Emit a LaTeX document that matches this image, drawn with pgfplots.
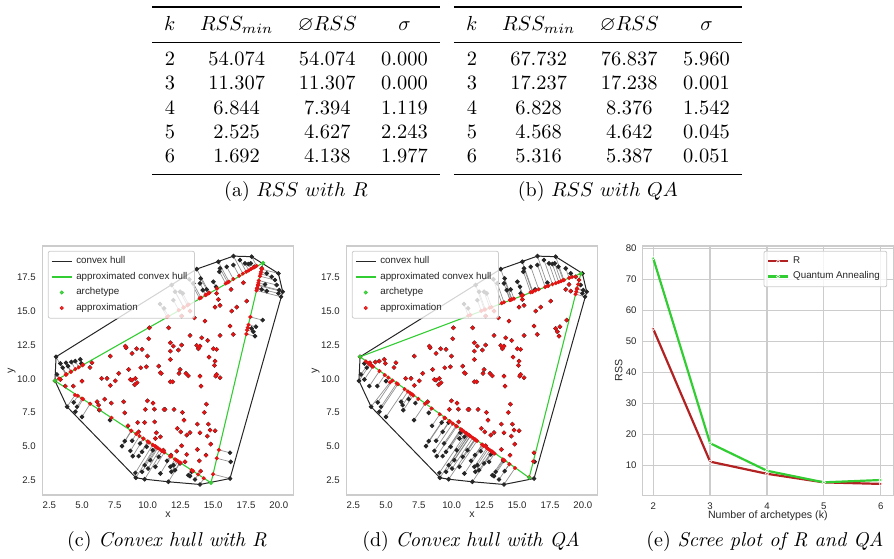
\documentclass[border=0pt]{standalone}
\usepackage{fontspec}
\usepackage{amssymb}
\usepackage{booktabs}
\usepackage{graphicx}
\usepackage{pgfplots}
\usepackage{pgfplotstable}
\pgfplotsset{compat=1.18}
\newfontfamily\plotfont{Liberation Sans}
\definecolor{lgreen}{RGB}{50,205,50}
\definecolor{pred}{RGB}{228,20,20}
\definecolor{fire}{RGB}{178,34,34}
\definecolor{tgray}{RGB}{38,38,38}
\definecolor{fgray}{RGB}{204,204,204}

\pgfplotstableread{
x y rx ry qx qy
10.13 13.79 10.13 13.79 10.13 13.79
11.60 13.79 11.60 13.79 11.60 13.79
10.08 12.98 10.08 12.98 10.08 12.98
11.73 12.68 11.73 12.68 11.73 12.68
11.73 12.06 11.73 12.06 11.73 12.06
8.30 12.43 8.30 12.43 8.30 12.43
8.35 12.31 8.35 12.31 8.35 12.31
8.81 11.89 8.81 11.89 8.81 11.89
9.16 12.24 9.16 12.24 9.16 12.24
9.57 12.19 9.57 12.19 9.57 12.19
9.98 11.69 9.98 11.69 9.98 11.69
7.15 11.69 7.15 11.69 7.15 11.69
5.75 11.20 5.75 11.20 5.75 11.20
7.79 10.41 7.79 10.41 7.79 10.41
8.55 10.70 8.55 10.70 8.55 10.70
9.47 10.83 9.47 10.83 9.47 10.83
9.90 10.90 9.90 10.90 9.90 10.90
10.84 10.95 10.84 10.95 10.84 10.95
10.97 10.46 10.97 10.46 10.97 10.46
11.73 11.44 11.73 11.44 11.73 11.44
6.90 10.04 6.90 10.04 6.90 10.04
8.68 9.96 8.68 9.96 8.68 9.96
8.81 9.91 8.81 9.91 8.81 9.91
9.06 10.04 9.06 10.04 9.06 10.04
9.19 9.72 9.19 9.72 9.19 9.72
9.01 9.57 9.01 9.57 9.01 9.57
7.15 9.52 7.15 9.52 7.15 9.52
7.53 9.86 7.53 9.86 7.53 9.86
4.99 9.84 4.99 9.84 5.17 10.10
4.33 9.47 4.33 9.47 4.90 10.29
3.34 9.96 3.34 9.96 4.00 10.91
11.04 10.41 11.04 10.41 11.04 10.41
11.73 9.79 11.73 9.79 11.73 9.79
6.72 8.50 6.72 8.50 6.97 8.86
6.14 8.31 6.14 8.31 6.66 9.07
6.26 8.06 6.26 8.06 6.86 8.93
7.23 8.21 7.23 8.21 7.45 8.52
8.17 8.31 8.17 8.31 8.17 8.31
8.25 7.49 8.25 7.49 8.47 7.81
9.98 8.38 9.98 8.38 9.98 8.38
10.41 8.21 10.41 8.21 10.41 8.21
10.51 7.76 10.51 7.76 10.51 7.76
9.82 7.74 9.82 7.74 9.82 7.74
11.25 7.74 11.25 7.74 11.25 7.74
9.24 6.77 9.24 6.77 9.48 7.11
9.77 6.77 9.77 6.77 9.84 6.87
10.53 6.82 10.53 6.82 10.53 6.82
8.50 6.53 8.50 6.53 9.09 7.38
9.31 6.08 9.31 6.08 9.85 6.85
10.66 6.01 10.66 6.01 10.79 6.20
10.97 5.71 10.97 5.71 11.14 5.96
10.59 5.59 10.59 5.59 10.94 6.10
12.39 10.41 12.39 10.41 12.39 10.41
12.92 10.41 12.92 10.41 12.92 10.41
13.10 10.23 13.10 10.23 13.10 10.23
13.99 10.21 13.99 10.21 13.99 10.21
15.19 10.21 15.19 10.21 15.19 10.21
15.52 10.09 15.52 10.09 15.52 10.09
11.91 9.79 11.91 9.79 11.91 9.79
14.07 9.47 14.07 9.47 14.07 9.47
11.32 7.74 11.32 7.74 11.32 7.74
12.01 7.74 12.01 7.74 12.01 7.74
12.65 7.52 12.65 7.52 12.65 7.52
14.48 8.13 14.48 8.13 14.48 8.13
14.32 7.52 14.32 7.52 14.32 7.52
12.77 6.95 12.77 6.95 12.77 6.95
13.79 6.65 13.79 6.65 13.79 6.65
14.63 6.65 14.63 6.65 14.63 6.65
12.26 6.33 12.26 6.33 12.26 6.33
12.52 6.08 12.52 6.08 12.52 6.08
13.23 6.03 13.23 6.03 13.23 6.03
12.98 5.84 12.98 5.84 12.98 5.84
13.99 6.01 13.99 6.01 13.99 6.01
14.76 6.21 14.76 6.21 14.76 6.21
15.14 6.16 15.14 6.16 15.14 6.16
14.55 5.76 14.55 5.76 14.55 5.76
14.81 5.17 14.81 5.17 14.81 5.17
12.59 5.05 12.59 5.05 12.59 5.05
13.79 4.77 13.79 4.77 13.79 4.77
12.21 4.65 12.21 4.65 12.47 5.03
12.98 4.40 12.98 4.40 13.11 4.59
14.45 4.35 14.45 4.35 14.45 4.35
13.94 3.93 13.94 3.93 13.97 3.98
12.85 3.86 12.85 3.86 13.27 4.47
14.04 3.17 14.04 3.17 14.40 3.69
17.30 17.13 17.30 17.13 17.38 16.90
16.36 16.63 16.36 16.63 16.39 16.55
15.26 16.34 15.26 16.34 15.32 16.16
15.39 15.89 15.39 15.89 15.39 15.89
15.14 15.32 15.14 15.32 15.14 15.32
15.52 15.45 15.52 15.45 15.52 15.45
16.79 15.32 16.79 15.32 16.79 15.32
17.55 15.77 17.55 15.77 17.55 15.77
16.41 15.03 16.41 15.03 16.41 15.03
13.56 14.53 13.56 14.53 13.56 14.53
14.37 14.29 14.37 14.29 14.37 14.29
16.28 13.92 16.28 13.92 16.28 13.92
13.23 13.22 13.23 13.22 13.23 13.22
14.12 13.05 14.12 13.05 14.12 13.05
15.52 13.22 15.52 13.22 15.52 13.22
16.53 13.30 16.53 13.30 16.53 13.30
14.58 12.85 14.58 12.85 14.58 12.85
11.96 12.43 11.96 12.43 11.96 12.43
12.59 12.51 12.59 12.51 12.59 12.51
12.34 12.14 12.34 12.14 12.34 12.14
13.74 12.48 13.74 12.48 13.74 12.48
13.99 12.43 13.99 12.43 13.99 12.43
13.87 12.24 13.87 12.24 13.87 12.24
15.01 12.24 15.01 12.24 15.01 12.24
15.26 12.19 15.26 12.19 15.26 12.19
14.68 11.62 14.68 11.62 14.68 11.62
15.14 11.32 15.14 11.32 15.14 11.32
15.09 11.00 15.09 11.00 15.09 11.00
12.47 10.70 12.47 10.70 12.47 10.70
15.26 10.33 15.26 10.33 15.26 10.33
13.23 15.03 13.23 15.03 13.23 15.03
12.59 14.66 12.59 14.66 12.59 14.66
5.60 10.85 5.60 10.85 5.60 10.85
6.49 10.04 6.49 10.04 6.49 10.04
3.72 9.47 3.72 9.47 4.49 10.58
13.74 18.14 14.71 16.38 14.56 15.88
14.04 17.45 14.65 16.35 14.60 15.90
13.99 17.08 14.46 16.24 14.44 15.84
14.20 16.58 14.40 16.21 14.47 15.85
14.50 16.63 14.65 16.36 14.75 15.95
15.39 18.68 16.20 17.21 16.19 16.47
15.52 18.19 16.10 17.15 16.15 16.45
15.47 17.94 15.95 17.07 16.02 16.42
16.03 18.31 16.53 17.40 16.64 16.64
16.54 18.44 16.98 17.64 17.13 16.81
16.54 19.10 17.26 17.80 17.34 16.89
17.04 18.81 17.52 17.94 17.69 17.01
17.42 18.56 17.71 18.04 17.95 17.10
17.68 18.51 17.88 18.14 18.16 17.18
17.86 18.56 18.04 18.24 18.34 17.24
18.14 18.31 18.15 18.29 18.50 17.31
17.93 19.06 18.31 18.38 18.56 17.33
15.01 17.20 15.29 16.70 15.38 16.18
15.21 16.83 15.28 16.70 15.44 16.20
11.83 16.96 12.75 15.30 12.49 15.13
12.09 16.46 12.74 15.29 12.56 15.15
12.47 16.46 13.03 15.45 12.90 15.28
12.67 16.34 13.13 15.51 13.04 15.32
11.96 15.84 12.37 15.10 12.25 15.04
10.94 15.55 11.47 14.59 11.26 14.68
11.25 15.23 11.57 14.64 11.43 14.74
13.18 17.38 13.96 15.97 13.82 15.61
13.48 17.08 14.07 16.02 13.99 15.68
3.01 11.64 3.75 10.31 3.01 11.64
3.34 11.15 3.79 10.34 3.45 11.30
3.52 10.83 3.79 10.34 3.72 11.11
3.77 11.20 4.14 10.53 3.77 11.20
3.92 10.95 4.15 10.54 3.92 10.95
4.18 11.25 4.48 10.72 4.18 11.25
4.48 11.32 4.74 10.86 4.48 11.32
4.86 11.45 5.08 11.06 4.86 11.45
4.94 11.15 5.02 11.01 4.94 11.15
3.08 10.33 3.24 10.03 3.66 11.16
18.70 18.19 18.70 18.19 18.96 17.48
19.08 17.82 18.64 17.93 19.18 17.56
19.46 17.57 18.61 17.78 19.46 17.57
19.71 17.33 18.56 17.61 19.71 17.33
19.97 17.82 18.70 18.13 19.85 17.80
19.84 16.96 18.48 17.29 19.65 17.01
20.04 16.58 18.41 16.98 19.56 16.71
20.30 16.46 18.41 16.92 19.55 16.66
20.17 16.09 18.30 16.55 19.45 16.28
19.97 16.34 18.36 16.73 19.50 16.46
18.77 14.36 17.83 14.59 18.77 14.36
18.26 13.87 17.69 14.01 18.26 13.87
18.19 13.17 17.53 13.33 18.19 13.17
18.06 13.50 17.58 13.62 18.06 13.50
17.93 13.74 17.64 13.81 17.93 13.74
16.28 4.53 15.43 4.74 16.28 4.53
16.33 3.86 15.27 4.12 16.22 3.89
16.28 2.62 14.99 2.94 15.91 2.72
18.70 16.63 18.35 16.72 18.70 16.63
19.08 16.51 18.34 16.69 19.08 16.51
18.95 17.00 18.44 17.12 18.95 17.00
3.85 7.94 4.46 8.81 5.30 9.75
4.36 8.26 4.67 8.75 5.48 9.88
4.61 7.94 4.99 8.55 5.81 9.67
4.99 7.19 5.61 8.16 6.41 9.24
4.48 7.57 5.07 8.50 5.90 9.61
6.31 7.69 6.32 7.71 7.07 8.78
7.13 6.95 7.24 7.13 7.97 8.16
8.04 5.02 8.76 6.15 9.48 7.10
8.25 5.39 8.74 6.17 9.45 7.12
8.81 5.42 9.13 5.93 9.82 6.87
8.68 4.67 9.38 5.77 10.08 6.69
8.86 4.28 9.68 5.57 10.39 6.48
9.06 3.04 10.38 5.12 11.10 5.98
9.57 3.12 10.71 4.92 11.41 5.77
9.77 3.61 10.63 4.97 11.32 5.84
9.31 4.28 10.00 5.37 10.69 6.27
9.57 4.60 10.04 5.34 10.72 6.25
10.03 3.36 10.93 4.78 11.61 5.64
10.20 3.98 10.77 4.87 11.43 5.75
10.59 3.49 11.27 4.56 11.93 5.41
10.84 4.23 11.11 4.66 11.75 5.54
10.97 2.99 11.77 4.25 12.41 5.07
11.48 3.93 11.71 4.28 12.32 5.14
11.73 3.49 12.08 4.05 12.69 4.88
11.81 3.12 12.31 3.90 12.92 4.71
9.10 2.68 10.57 5.00 11.30 5.85
9.77 2.57 11.10 4.66 11.81 5.50
11.58 2.38 12.48 3.79 13.11 4.58
11.78 4.35 11.78 4.35 12.32 5.13
11.96 3.61 12.20 3.98 12.79 4.81
12.09 3.24 12.45 3.81 13.05 4.63
13.10 2.87 13.34 3.25 13.91 4.04
13.23 2.80 13.47 3.17 14.03 3.95
13.36 3.12 13.41 3.20 13.96 3.99
13.99 2.18 14.28 2.64 14.83 3.40
13.61 2.55 13.85 2.93 14.40 3.69
9.42 5.22 9.66 5.59 10.33 6.53
9.92 4.97 10.12 5.29 10.78 6.21
10.38 4.72 10.57 5.02 11.21 5.91
11.20 4.72 11.20 4.72 11.76 5.52
12.47 3.74 12.50 3.79 13.08 4.62
2.93 9.86 2.93 9.86 3.77 11.08
}\pts

\pgfplotstableread{
x y
2.93 9.86
3.01 11.64
13.74 18.14
16.54 19.10
17.93 19.06
19.97 17.82
20.30 16.46
16.28 2.62
13.99 2.18
11.58 2.38
9.77 2.57
9.10 2.68
3.85 7.94
2.93 9.86
}\hull

\pgfplotstableread{
k R QA
2 54.074 76.837
3 11.307 17.238
4 7.394 8.376
5 4.627 4.642
6 4.138 5.387
}\scree

\pgfplotsset{
  sns/.style={
    scale only axis,
    axis line style={draw=fgray, line width=0.6pt},
    major tick length=0pt,
    tick style={draw=none},
    tick label style={font=\plotfont\fontsize{4.8}{5.5}\selectfont, text=tgray},
    label style={font=\plotfont\fontsize{5.3}{6}\selectfont, text=tgray},
    /pgf/number format/assume math mode=true,
    legend image code/.code={\draw[mark repeat=2,mark phase=2,##1] plot coordinates {(0pt,0pt) (5pt,0pt) (10pt,0pt)};},
    legend cell align=left,
  },
  hullax/.style={
    sns,
    width=125.2pt, height=124.5pt,
    xmin=2.0, xmax=21.1, ymin=1.4, ymax=19.85,
    xtick={2.5,5,7.5,10,12.5,15,17.5,20},
    ytick={2.5,5,7.5,10,12.5,15,17.5},
    xticklabel style={/pgf/number format/.cd, fixed, fixed zerofill, precision=1},
    yticklabel style={/pgf/number format/.cd, fixed, fixed zerofill, precision=1},
    xlabel={x}, ylabel={y},
    xlabel style={at={(axis description cs:0.5,-0.08)}, anchor=center},
    ylabel style={at={(axis description cs:-0.124,0.5)}, anchor=center},
    legend style={at={(axis description cs:0,1)}, anchor=north west, xshift=2.5pt, yshift=-2.4pt,
      draw=fgray, rounded corners=1pt, fill=white, fill opacity=0.8, text opacity=1,
      font=\plotfont\fontsize{4.9}{5.5}\selectfont, text=tgray,
      inner xsep=1.5pt, inner ysep=0.6pt, row sep=-1.3pt},
  },
  blackpts/.style={only marks, mark=*, color=black!85, mark size=0.95pt},
  redpts/.style={only marks, mark=*, color=pred, mark size=0.8pt},
  archpts/.style={only marks, mark=*, color=lgreen, mark size=0.8pt},
}

\begin{document}
\begin{tikzpicture}
\useasboundingbox (0,0) rectangle (447pt,279pt);

% ---- tables ----
\node[inner sep=0pt, anchor=north] at (148pt,276pt) {\resizebox*{144pt}{84.5pt}{%
\begin{tabular}{cccc}
\toprule
$k$ & $RSS_{min}$ & $\varnothing RSS$ & $\sigma$ \\
\midrule
2 & 54.074 & 54.074 & 0.000 \\
3 & 11.307 & 11.307 & 0.000 \\
4 & 6.844 & 7.394 & 1.119 \\
5 & 2.525 & 4.627 & 2.243 \\
6 & 1.692 & 4.138 & 1.977 \\
\bottomrule
\end{tabular}}};
\node[inner sep=0pt, anchor=north] at (299pt,276pt) {\resizebox*{144pt}{84.5pt}{%
\begin{tabular}{cccc}
\toprule
$k$ & $RSS_{min}$ & $\varnothing RSS$ & $\sigma$ \\
\midrule
2 & 67.732 & 76.837 & 5.960 \\
3 & 17.237 & 17.238 & 0.001 \\
4 & 6.828 & 8.376 & 1.542 \\
5 & 4.568 & 4.642 & 0.045 \\
6 & 5.316 & 5.387 & 0.051 \\
\bottomrule
\end{tabular}}};
\node at (148pt,183pt) {(a) $RSS\ with\ R$};
\node at (299pt,183pt) {(b) $RSS\ with\ QA$};
\node at (83.5pt,8.5pt) {(c) \textit{Convex hull with R}};
\node at (235.5pt,8.5pt) {(d) \textit{Convex hull with QA}};
\node at (382.5pt,8.5pt) {(e) \textit{Scree plot of R and QA}};

% ---- (c) ----
\begin{axis}[hullax, at={(21.4pt,31.5pt)}, anchor=south west]
\addplot[forget plot, draw=gray, line width=0.35pt, opacity=0.85,
  quiver={u=\thisrow{rx}-\thisrow{x}, v=\thisrow{ry}-\thisrow{y}}] table[x=x,y=y] {\pts};
\addplot[color=black!85, line width=0.5pt] table[x=x,y=y] {\hull};
\addlegendentry{convex hull}
\addplot[color=lgreen, line width=0.55pt] coordinates {(2.93,9.86) (18.80,18.60) (14.83,2.30) (2.93,9.86)};
\addlegendentry{approximated convex hull}
\addlegendimage{archpts}
\addlegendentry{archetype}
\addplot[forget plot, blackpts] table[x=x,y=y] {\pts};
\addplot[redpts] table[x=rx,y=ry] {\pts};
\addlegendentry{approximation}
\addplot[forget plot, archpts] coordinates {(2.93,9.86) (18.80,18.60) (14.83,2.30)};
\end{axis}

% ---- (d) ----
\begin{axis}[hullax, at={(173.4pt,31.5pt)}, anchor=south west]
\addplot[forget plot, draw=gray, line width=0.35pt, opacity=0.85,
  quiver={u=\thisrow{qx}-\thisrow{x}, v=\thisrow{qy}-\thisrow{y}}] table[x=x,y=y] {\pts};
\addplot[color=black!85, line width=0.5pt] table[x=x,y=y] {\hull};
\addlegendentry{convex hull}
\addplot[color=lgreen, line width=0.55pt] coordinates {(3.01,11.64) (19.85,17.80) (15.91,2.68) (3.01,11.64)};
\addlegendentry{approximated convex hull}
\addlegendimage{archpts}
\addlegendentry{archetype}
\addplot[forget plot, blackpts] table[x=x,y=y] {\pts};
\addplot[redpts] table[x=qx,y=qy] {\pts};
\addlegendentry{approximation}
\addplot[forget plot, archpts] coordinates {(3.01,11.64) (19.85,17.80) (15.91,2.68)};
\end{axis}

% ---- (e) ----
\begin{axis}[sns, at={(321.2pt,31.25pt)}, anchor=south west,
  width=125.4pt, height=124.75pt,
  xmin=1.81, xmax=6.22, ymin=0.4, ymax=80.75,
  xtick={2,3,4,5,6}, ytick={10,20,30,40,50,60,70,80},
  grid=major, grid style={fgray, line width=0.6pt},
  xlabel={Number of archetypes (k)}, ylabel={RSS},
  xlabel style={at={(axis description cs:0.5,-0.08)}, anchor=center},
  ylabel style={at={(axis description cs:-0.094,0.5)}, anchor=center},
  yticklabel style={xshift=0.6pt},
  legend style={at={(axis description cs:1,1)}, anchor=north east, xshift=-3pt, yshift=-2.4pt,
    draw=fgray, rounded corners=1pt, fill=white, fill opacity=0.8, text opacity=1,
    font=\plotfont\fontsize{4.9}{5.5}\selectfont, text=tgray,
    inner xsep=1.5pt, inner ysep=0.6pt, row sep=-1.3pt},
]
\addplot[color=fire, line width=1.1pt, mark=*, mark size=0.8pt, mark options={fill=fire, draw=white, line width=0.3pt}] table[x=k,y=R] {\scree};
\addlegendentry{R}
\addplot[color=lgreen, line width=1.1pt, mark=*, mark size=0.8pt, mark options={fill=lgreen, draw=white, line width=0.3pt}] table[x=k,y=QA] {\scree};
\addlegendentry{Quantum Annealing}
\end{axis}
\end{tikzpicture}
\end{document}
